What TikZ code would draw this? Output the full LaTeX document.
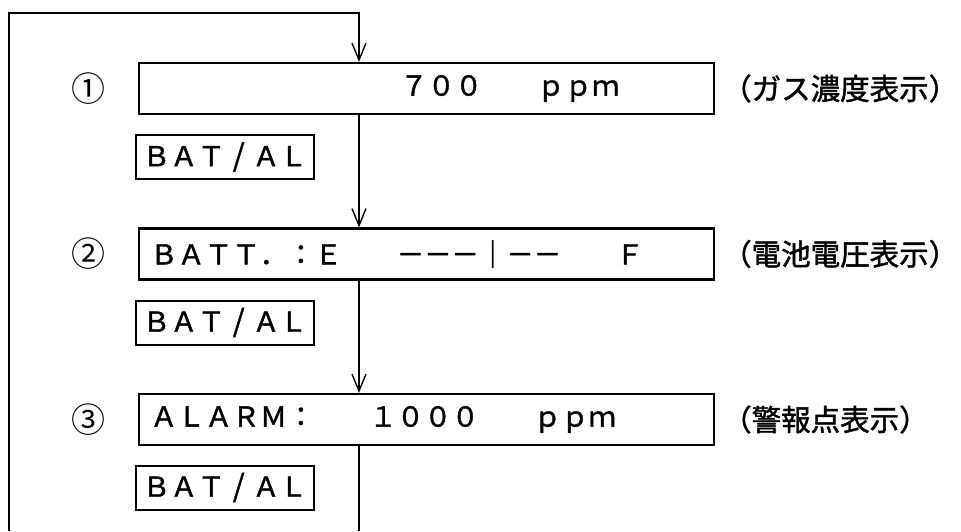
\documentclass[tikz,border=0pt]{standalone}
\usepackage{fontspec}
\setmainfont{Noto Sans CJK JP}[FakeBold=1.5]
\newfontfamily\numfont{Noto Sans CJK JP}
\usetikzlibrary{arrows.meta}
\newcommand{\slashcell}{\makebox[1em]{\fontsize{30}{30}\selectfont /}}
\begin{document}
\begin{tikzpicture}[x=1pt,y=-1pt,
  every node/.style={font=\fontsize{27.4}{30}\selectfont, inner sep=0pt},
  dispbox/.style={draw, line width=2.2pt, minimum width=575pt, minimum height=51pt},
  keybox/.style={draw, line width=2pt, minimum width=178pt, minimum height=44pt},
  disptext/.style={anchor=west},
  modelabel/.style={anchor=west, font=\fontsize{29.5}{32}\selectfont},
  numlabel/.style={font=\numfont\fontsize{34}{36}\selectfont},
  conn/.style={line width=1.4pt},
  arr/.style={conn, -{Straight Barb[length=17pt,width=14pt,line width=1.4pt]}}]
\useasboundingbox (0,0) rectangle (961,531);
% display boxes
\node[dispbox] (b1) at (426.5,88.5) {};
\node[dispbox] (b2) at (426.5,254) {};
\node[dispbox] (b3) at (426.5,419.5) {};
% display texts
\node[disptext] (t1) at (400,88.5) {７００　　ｐｐｍ};
\node[disptext] (t2) at (150,254) {ＢＡＴＴ．：Ｅ　　－－－｜－－　　Ｆ};
\node[disptext] (t3) at (150,419.5) {ＡＬＡＲＭ：　　１０００　　ｐｐｍ};
% numbers
\node[numlabel] (n1) at (88,88.5) {①};
\node[numlabel] (n2) at (88,254) {②};
\node[numlabel] (n3) at (88,419.5) {③};
% labels
\node[modelabel] (l1) at (722,88.5) {（ガス濃度表示）};
\node[modelabel] (l2) at (722,254) {（電池電圧表示）};
\node[modelabel] (l3) at (722,419.5) {（警報点表示）};
% key boxes
\node[keybox] (k1) at (225,157) {ＢＡＴ\slashcell ＡＬ};
\node[keybox] (k2) at (225,322.5) {ＢＡＴ\slashcell ＡＬ};
\node[keybox] (k3) at (225,487.5) {ＢＡＴ\slashcell ＡＬ};
% connectors
\coordinate (bl) at (9,531);
\coordinate (tr) at (359,13);
\coordinate (br) at (359,531);
\draw[arr] (bl) |- (tr) -- (tr |- b1.north);
\draw[arr] (tr |- b1.south) -- (tr |- b2.north);
\draw[arr] (tr |- b2.south) -- (tr |- b3.north);
\draw[conn] (tr |- b3.south) -- (br);
\end{tikzpicture}
\end{document}
